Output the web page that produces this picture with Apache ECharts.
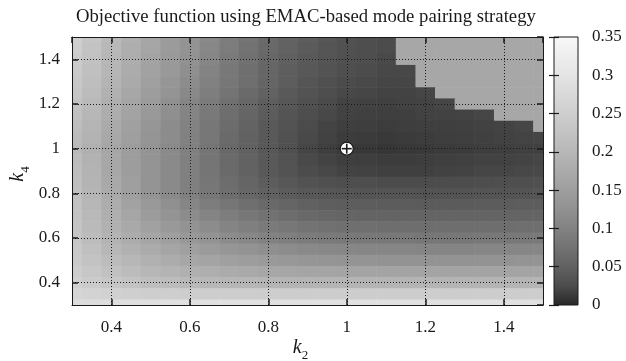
<!DOCTYPE html>
<html>
<head>
<meta charset="utf-8">
<script src="https://cdn.jsdelivr.net/npm/echarts@6/dist/echarts.min.js"></script>
<style>
html, body { margin: 0; padding: 0; background: #fff; }
#chart { width: 626px; height: 361px; }
</style>
</head>
<body>
<div id="chart"></div>
<script>
// grid nodes (cell centres), k2 left -> right, k4 top -> bottom
const k2 = [0.30, 0.35, 0.40, 0.45, 0.50, 0.55, 0.60, 0.65, 0.70, 0.75, 0.80, 0.85,
  0.90, 0.95, 1.00, 1.05, 1.10, 1.15, 1.20, 1.25, 1.30, 1.35, 1.40, 1.45, 1.50];
const k4 = [1.50, 1.45, 1.40, 1.35, 1.30, 1.25, 1.20, 1.15, 1.10, 1.05, 1.00, 0.95,
  0.90, 0.85, 0.80, 0.75, 0.70, 0.65, 0.60, 0.55, 0.50, 0.45, 0.40, 0.35, 0.30];

// flat light region in the upper right corner
const P = 0.168;

// objective value, one row per k4 (same order as k4)
const objective = [
  [.254,.230,.206,.186,.165,.147,.131,.111,.092,.076,.063,.053,.045,.038,.032,.028,.025,P,P,P,P,P,P,P,P], // 1.50
  [.250,.226,.203,.182,.163,.145,.129,.109,.090,.074,.061,.051,.043,.036,.031,.027,.025,P,P,P,P,P,P,P,P], // 1.45
  [.245,.222,.199,.179,.159,.143,.126,.106,.087,.072,.059,.049,.041,.035,.030,.027,.023,P,P,P,P,P,P,P,P], // 1.40
  [.242,.219,.197,.177,.157,.140,.122,.102,.084,.070,.057,.047,.039,.033,.028,.025,.022,.022,P,P,P,P,P,P,P], // 1.35
  [.236,.215,.193,.173,.154,.135,.117,.098,.081,.068,.055,.045,.036,.030,.025,.023,.021,.021,P,P,P,P,P,P,P], // 1.30
  [.231,.210,.188,.168,.149,.130,.111,.093,.076,.063,.051,.041,.033,.027,.022,.021,.019,.019,.021,P,P,P,P,P,P], // 1.25
  [.225,.204,.183,.164,.144,.124,.105,.088,.071,.059,.046,.038,.030,.024,.019,.018,.017,.018,.019,.021,P,P,P,P,P], // 1.20
  [.220,.199,.179,.159,.140,.121,.103,.085,.068,.056,.044,.035,.027,.022,.018,.017,.016,.016,.018,.018,.019,.021,P,P,P], // 1.15
  [.215,.194,.173,.154,.134,.117,.100,.082,.065,.053,.041,.032,.024,.019,.016,.015,.014,.015,.016,.016,.017,.018,.019,.021,P], // 1.10
  [.210,.191,.170,.152,.133,.116,.098,.081,.063,.051,.040,.031,.023,.018,.014,.013,.012,.013,.014,.015,.016,.017,.018,.019,.020], // 1.05
  [.206,.186,.165,.148,.131,.114,.096,.078,.061,.050,.039,.030,.021,.016,.012,.011,.010,.011,.012,.013,.014,.015,.016,.017,.017], // 1.00
  [.211,.189,.167,.149,.131,.114,.096,.079,.062,.051,.040,.032,.023,.019,.016,.015,.014,.014,.015,.016,.017,.018,.018,.019,.021], // 0.95
  [.215,.192,.168,.149,.131,.114,.096,.079,.063,.051,.041,.033,.025,.022,.019,.018,.017,.017,.017,.018,.019,.021,.021,.022,.023], // 0.90
  [.217,.194,.171,.151,.131,.114,.096,.081,.066,.055,.045,.038,.032,.030,.027,.027,.025,.025,.025,.025,.026,.027,.028,.028,.030], // 0.85
  [.219,.195,.173,.152,.131,.114,.096,.082,.068,.059,.050,.044,.039,.037,.036,.035,.034,.034,.033,.033,.033,.034,.034,.035,.036], // 0.80
  [.222,.200,.179,.158,.140,.123,.107,.092,.080,.070,.061,.055,.050,.047,.045,.045,.044,.044,.043,.043,.043,.044,.044,.045,.045], // 0.75
  [.225,.204,.183,.165,.147,.131,.117,.104,.092,.082,.073,.067,.061,.058,.055,.054,.054,.054,.054,.054,.054,.054,.054,.054,.054], // 0.70
  [.229,.207,.188,.172,.155,.141,.128,.116,.104,.095,.086,.081,.075,.072,.070,.069,.068,.068,.068,.068,.068,.068,.068,.069,.069], // 0.65
  [.231,.211,.193,.178,.163,.151,.139,.128,.117,.109,.100,.095,.090,.087,.085,.084,.083,.083,.082,.082,.082,.083,.083,.084,.085], // 0.60
  [.236,.219,.201,.188,.175,.164,.154,.145,.135,.128,.121,.117,.112,.110,.108,.107,.106,.106,.105,.105,.105,.106,.106,.107,.108], // 0.55
  [.240,.225,.210,.199,.187,.178,.168,.162,.154,.148,.142,.139,.134,.133,.131,.130,.129,.129,.129,.129,.129,.129,.129,.130,.131], // 0.50
  [.248,.234,.221,.211,.201,.194,.186,.181,.175,.172,.168,.166,.163,.163,.162,.161,.161,.161,.161,.161,.161,.161,.161,.161,.162], // 0.45
  [.254,.243,.231,.224,.215,.210,.204,.201,.198,.197,.195,.194,.193,.193,.193,.193,.193,.193,.193,.193,.193,.193,.193,.193,.193], // 0.40
  [.268,.262,.257,.253,.250,.249,.248,.248,.248,.248,.248,.248,.248,.248,.248,.248,.248,.248,.248,.248,.248,.248,.248,.248,.248], // 0.35
  [.283,.285,.287,.288,.289,.290,.290,.290,.290,.290,.290,.290,.290,.290,.290,.290,.290,.290,.290,.290,.290,.290,.290,.290,.290]  // 0.30
];

// optimum marker
const optimum = [[1.0, 1.0]];
// colour bar range
const cbRange = [0, 0.35];

const font = 'Liberation Serif, Times New Roman, serif';
const ink = '#1a1a1a';
// gray palette, evenly spaced over cbRange (brightens fast near zero)
const palette = ['#282828', '#4c4c4c', '#616161', '#737373', '#828282', '#919191', '#9e9e9e',
  '#ababab', '#b7b7b7', '#c3c3c3', '#cecece', '#d9d9d9', '#e4e4e4', '#eeeeee', '#f8f8f8'];

const cells = [];
k4.forEach((y, j) => {
  k2.forEach((x, i) => {
    cells.push([x, y, objective[j][i]]);
  });
});
const dx = k2[1] - k2[0];
const dy = k4[0] - k4[1];

function renderCell(params, api) {
  const x = api.value(0);
  const y = api.value(1);
  const p0 = api.coord([x - dx / 2, y + dy / 2]);
  const p1 = api.coord([x + dx / 2, y - dy / 2]);
  const cs = params.coordSys;
  const shape = echarts.graphic.clipRectByRect(
    { x: p0[0], y: p0[1], width: p1[0] - p0[0] + 0.6, height: p1[1] - p0[1] + 0.6 },
    { x: cs.x, y: cs.y, width: cs.width, height: cs.height }
  );
  return shape && {
    type: 'rect',
    shape: shape,
    style: { fill: api.visual('color') }
  };
}

function renderMarker(params, api) {
  const c = api.coord([api.value(0), api.value(1)]);
  const r = 6.5;
  const a = 5;
  return {
    type: 'group',
    children: [
      { type: 'circle', shape: { cx: c[0], cy: c[1], r: r }, style: { fill: '#fff', stroke: ink, lineWidth: 1.2 } },
      { type: 'line', shape: { x1: c[0] - a, y1: c[1], x2: c[0] + a, y2: c[1] }, style: { stroke: ink, lineWidth: 1.6 } },
      { type: 'line', shape: { x1: c[0], y1: c[1] - a, x2: c[0], y2: c[1] + a }, style: { stroke: ink, lineWidth: 1.6 } }
    ]
  };
}

function renderBar(params, api) {
  const p0 = api.coord([0, cbRange[1]]);
  const p1 = api.coord([1, cbRange[0]]);
  const stops = palette.map((c, i) => ({ offset: i / (palette.length - 1), color: c }));
  return {
    type: 'rect',
    shape: { x: p0[0], y: p0[1], width: p1[0] - p0[0], height: p1[1] - p0[1] },
    style: { fill: new echarts.graphic.LinearGradient(0, 1, 0, 0, stops) }
  };
}

const labelStyle = { fontFamily: font, fontSize: 17, color: ink };
const nameRich = {
  i: { fontFamily: font, fontStyle: 'italic', fontSize: 20, color: ink, verticalAlign: 'bottom', padding: [0, 0, 4, 0] },
  s: { fontFamily: font, fontSize: 13, color: ink, verticalAlign: 'bottom' }
};
const mainAxis = {
  type: 'value',
  gridIndex: 0,
  min: 0.3,
  max: 1.5,
  splitNumber: 6,
  z: 5,
  nameMoveOverlap: false,
  axisLine: { show: true, lineStyle: { color: ink, width: 1 } },
  axisTick: { show: true, inside: true, length: 6, lineStyle: { color: ink, width: 1.5 } }
};
const gridLine = { show: true, lineStyle: { color: ink, width: 1, type: [1, 2] } };

const chart = echarts.init(document.getElementById('chart'));
chart.setOption({
  animation: false,
  backgroundColor: '#fff',
  title: {
    text: 'Objective function using EMAC-based mode pairing strategy',
    left: 71,
    top: 3,
    textStyle: { fontFamily: font, fontSize: 18.7, fontWeight: 'normal', color: ink }
  },
  grid: [
    { left: 72, top: 37, width: 471, height: 268, outerBoundsMode: 'none', containLabel: false },
    { left: 554, top: 37, width: 24, height: 268, outerBoundsMode: 'none', containLabel: false,
      show: true, borderColor: ink, borderWidth: 1, backgroundColor: 'transparent', z: 10 }
  ],
  visualMap: {
    type: 'continuous',
    show: false,
    min: cbRange[0],
    max: cbRange[1],
    dimension: 2,
    seriesIndex: 0,
    inRange: { color: palette }
  },
  xAxis: [
    Object.assign({}, mainAxis, {
      position: 'bottom',
      name: '{i|k}{s|2}',
      nameLocation: 'middle',
      nameGap: 33,
      nameTextStyle: { rich: nameRich, padding: [0, 14, 0, 0] },
      axisLabel: Object.assign({ margin: 14, showMinLabel: false, showMaxLabel: false }, labelStyle),
      splitLine: gridLine
    }),
    Object.assign({}, mainAxis, {
      position: 'top',
      axisLabel: { show: false },
      splitLine: { show: false }
    }),
    { type: 'value', gridIndex: 1, min: 0, max: 1, show: false }
  ],
  yAxis: [
    Object.assign({}, mainAxis, {
      position: 'left',
      name: '{i|k}{s|4}',
      nameLocation: 'middle',
      nameGap: 40,
      nameRotate: 90,
      nameTextStyle: { rich: nameRich, padding: [0, 6, 0, 0] },
      axisLabel: Object.assign({ margin: 12, showMinLabel: false, showMaxLabel: false }, labelStyle),
      splitLine: gridLine
    }),
    Object.assign({}, mainAxis, {
      position: 'right',
      axisLabel: { show: false },
      splitLine: { show: false }
    }),
    {
      type: 'value', gridIndex: 1, position: 'right',
      min: cbRange[0], max: cbRange[1], interval: 0.05, z: 5,
      axisLine: { show: false },
      axisTick: { show: true, inside: true, length: 5, lineStyle: { color: ink, width: 1.2 } },
      axisLabel: Object.assign({ margin: 14 }, labelStyle),
      splitLine: { show: false }
    },
    {
      type: 'value', gridIndex: 1, position: 'left',
      min: cbRange[0], max: cbRange[1], interval: 0.05, z: 5,
      axisLine: { show: false },
      axisTick: { show: true, inside: true, length: 5, lineStyle: { color: ink, width: 1.2 } },
      axisLabel: { show: false },
      splitLine: { show: false }
    }
  ],
  series: [
    {
      type: 'custom',
      xAxisIndex: 0,
      yAxisIndex: 0,
      renderItem: renderCell,
      data: cells,
      z: 2
    },
    {
      type: 'custom',
      xAxisIndex: 0,
      yAxisIndex: 0,
      renderItem: renderMarker,
      data: optimum,
      z: 10
    },
    {
      type: 'custom',
      xAxisIndex: 2,
      yAxisIndex: 2,
      renderItem: renderBar,
      data: [cbRange],
      z: 2
    }
  ]
});
</script>
</body>
</html>
